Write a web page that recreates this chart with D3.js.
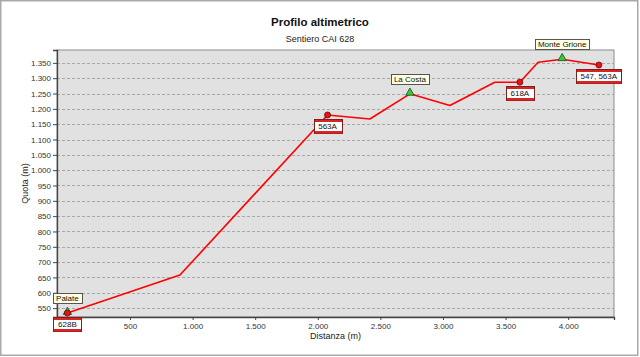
<!DOCTYPE html>
<html>
<head>
<meta charset="utf-8">
<script src="https://cdn.jsdelivr.net/npm/d3@7"></script>
<style>
  body { margin: 0; background: #fff; }
  text { font-family: "Liberation Sans", Arial, sans-serif; }
</style>
</head>
<body>
<div id="chart"></div>
<script>

// *** DATA ***
let distanza = [0, 899, 2078, 2416, 2736, 3055, 3414, 3614, 3760, 3952, 4245];
let quota = [534, 658, 1180, 1167, 1249, 1211, 1287, 1287, 1352, 1362, 1343];

// punti di interesse (triangoli verdi)
let poiNomi = ["Palate", "La Costa", "Monte Grione"];
let poiDist = [0, 2736, 3952];
let poiQuota = [534, 1249, 1362];

// incroci sentieri (cerchi rossi)
let sentNomi = ["628B", "563A", "618A", "547, 563A"];
let sentDist = [0, 2078, 3614, 4245];
let sentQuota = [534, 1180, 1287, 1343];

let yTicks = d3.range(550, 1351, 50);
let xTicks = d3.range(500, 4001, 500);

// *** SETTINGS ***
let width = 640, height = 357;
let plot = {left: 57, right: 614, top: 50, bottom: 317};
let colors = {bg: "#e1e1e1", grid: "#a8a8a8", line: "#ff0000", text: "#333333"};

let fmt = d3.formatLocale({decimal: ",", thousands: ".", grouping: [3], currency: ["", "€"]}).format(",d");

let svg = d3.select("#chart").append("svg")
  .attr("width", width)
  .attr("height", height);

// outer frame
svg.append("rect")
  .attr("x", 0.75).attr("y", 0.75)
  .attr("width", width - 3).attr("height", height - 2.5)
  .attr("fill", "white")
  .attr("stroke", "#a9a9a9")
  .attr("stroke-width", 1.5);

let x = d3.scaleLinear().domain([-83, 4366]).range([plot.left, plot.right]);
let y = d3.scaleLinear().domain([521, 1392]).range([plot.bottom, plot.top]);

// plot background
svg.append("rect")
  .attr("x", plot.left).attr("y", plot.top)
  .attr("width", plot.right - plot.left).attr("height", plot.bottom - plot.top)
  .attr("fill", colors.bg)
  .attr("stroke", "#8c8c8c");

// gridlines
svg.append("g").selectAll("line")
  .data(yTicks)
  .enter()
  .append("line")
    .attr("x1", plot.left).attr("x2", plot.right)
    .attr("y1", d => Math.round(y(d)) + 0.5).attr("y2", d => Math.round(y(d)) + 0.5)
    .attr("stroke", colors.grid)
    .attr("stroke-dasharray", "3,2");

// axes
let yAxis = svg.append("g")
  .attr("transform", `translate(${plot.left},0)`)
  .call(d3.axisLeft(y).tickValues(yTicks).tickFormat(fmt).tickSize(4).tickPadding(2));

let xAxis = svg.append("g")
  .attr("transform", `translate(0,${plot.bottom})`)
  .call(d3.axisBottom(x).tickValues(xTicks).tickFormat(fmt).tickSize(3).tickPadding(3));

[xAxis, yAxis].forEach(a => {
  a.select(".domain").attr("stroke", "#444").attr("stroke-width", 1.3);
  a.selectAll(".tick line").attr("stroke", "#444");
  a.selectAll(".tick text")
    .style("font-size", "8px")
    .style("font-family", "'Liberation Sans', Arial, sans-serif")
    .attr("fill", colors.text);
});

// titles
svg.append("text")
  .attr("x", 320).attr("y", 26)
  .attr("text-anchor", "middle")
  .style("font-size", "11.5px").style("font-weight", "bold")
  .attr("fill", "#111")
  .text("Profilo altimetrico");

svg.append("text")
  .attr("x", 320).attr("y", 42)
  .attr("text-anchor", "middle")
  .style("font-size", "9px")
  .attr("fill", "#222")
  .text("Sentiero CAI 628");

svg.append("text")
  .attr("x", (plot.left + plot.right) / 2).attr("y", 339)
  .attr("text-anchor", "middle")
  .style("font-size", "9px")
  .attr("fill", "#222")
  .text("Distanza (m)");

svg.append("text")
  .attr("transform", `translate(28,${(plot.top + plot.bottom) / 2}) rotate(-90)`)
  .attr("text-anchor", "middle")
  .style("font-size", "9px")
  .attr("fill", "#222")
  .text("Quota (m)");

// profile line
let line = d3.line()
  .x(d => x(d[0]))
  .y(d => y(d[1]));

svg.append("path")
  .datum(distanza.map((d, i) => [d, quota[i]]))
  .attr("d", line)
  .attr("fill", "none")
  .attr("stroke", colors.line)
  .attr("stroke-width", 1.6)
  .attr("stroke-linejoin", "round");

// markers
let tri = d3.symbol().type(d3.symbolTriangle).size(30);

svg.append("g").selectAll("path")
  .data(poiNomi)
  .enter()
  .append("path")
    .attr("d", tri)
    .attr("transform", (d, i) => `translate(${x(poiDist[i])},${y(poiQuota[i]) - 1})`)
    .attr("fill", "#33cc33")
    .attr("stroke", "#1a4d1a")
    .attr("stroke-width", 0.8);

svg.append("g").selectAll("circle")
  .data(sentNomi)
  .enter()
  .append("circle")
    .attr("cx", (d, i) => x(sentDist[i]))
    .attr("cy", (d, i) => y(sentQuota[i]))
    .attr("r", 3)
    .attr("fill", "#ee1111")
    .attr("stroke", "#551111")
    .attr("stroke-width", 0.8);

// POI labels (yellow boxes above)
poiNomi.forEach((name, i) => {
  let cx = x(poiDist[i]), cy = y(poiQuota[i]);
  let g = svg.append("g");
  let t = g.append("text")
    .attr("x", cx).attr("y", cy - 12)
    .attr("text-anchor", "middle")
    .style("font-size", "8px")
    .attr("fill", "#111")
    .text(name);
  let w = t.node().getComputedTextLength() + 6;
  g.insert("rect", "text")
    .attr("x", Math.round(cx - w / 2) + 0.5).attr("y", Math.round(cy - 20) + 0.5)
    .attr("width", Math.round(w)).attr("height", 10)
    .attr("fill", "#ffffe1")
    .attr("stroke", "#555");
});

// trail labels (red-white-red boxes below)
sentNomi.forEach((name, i) => {
  let cx = x(sentDist[i]), cy = y(sentQuota[i]);
  let g = svg.append("g");
  let top = Math.round(cy + 4);
  let t = g.append("text")
    .attr("x", cx).attr("y", top + 10)
    .attr("text-anchor", "middle")
    .style("font-size", "8px")
    .attr("fill", "#111")
    .text(name);
  let w = Math.round(t.node().getComputedTextLength() + 9);
  let left = Math.round(cx - w / 2);
  g.insert("rect", "text")
    .attr("x", left + 0.5).attr("y", top + 0.5)
    .attr("width", w).attr("height", 14)
    .attr("fill", "white")
    .attr("stroke", "#7a2020");
  g.insert("rect", "text")
    .attr("x", left + 1).attr("y", top + 1)
    .attr("width", w - 1).attr("height", 2)
    .attr("fill", "#dd2222");
  g.insert("rect", "text")
    .attr("x", left + 1).attr("y", top + 12)
    .attr("width", w - 1).attr("height", 2.5)
    .attr("fill", "#dd2222");
});

</script>
</body>
</html>
